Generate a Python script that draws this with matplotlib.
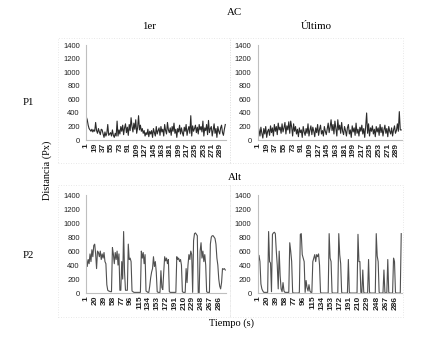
import matplotlib
matplotlib.use('Agg')
import matplotlib.pyplot as plt
import numpy as np

# values every 2 s (t = 1, 3, ..., 299)
t = np.arange(1, 300, 2)

ac_first = [340, 300, 220, 170, 150, 130, 160, 120, 150, 130, 260, 140, 100, 170, 120,
            80, 160, 150, 90, 40, 120, 60, 100, 230, 70, 90, 110, 60, 150, 70,
            40, 100, 60, 280, 60, 150, 90, 200, 130, 220, 80, 180, 240, 110, 190,
            70, 230, 140, 330, 200, 120, 250, 160, 300, 100, 180, 360, 150, 220, 130,
            170, 100, 140, 60, 110, 80, 160, 50, 130, 90, 140, 40, 170, 110, 60,
            200, 90, 140, 180, 70, 200, 120, 160, 60, 230, 140, 90, 260, 150, 110,
            180, 70, 200, 130, 250, 100, 160, 40, 170, 120, 220, 90, 180, 110, 60,
            190, 130, 230, 70, 150, 200, 100, 360, 60, 210, 130, 170, 220, 110, 190,
            90, 230, 150, 200, 120, 280, 60, 180, 140, 230, 80, 290, 110, 170, 200,
            60, 150, 240, 100, 170, 40, 200, 130, 90, 180, 220, 110, 70, 160, 230]

ac_last = [200, 150, 60, 190, 100, 30, 170, 90, 200, 40, 130, 160, 70, 210, 110,
           180, 60, 230, 130, 200, 80, 250, 150, 190, 100, 240, 120, 180, 260, 90,
           210, 150, 270, 100, 280, 190, 60, 240, 130, 200, 90, 160, 50, 180, 110,
           150, 40, 200, 120, 70, 170, 100, 240, 60, 150, 210, 80, 190, 130, 50,
           180, 110, 230, 70, 160, 220, 90, 140, 60, 200, 130, 80, 170, 250, 110,
           190, 300, 140, 230, 90, 280, 170, 60, 300, 150, 220, 100, 260, 130, 80,
           200, 140, 60, 180, 230, 90, 150, 40, 210, 120, 180, 70, 250, 100, 160,
           60, 190, 130, 220, 90, 170, 40, 200, 400, 100, 240, 60, 180, 130, 210,
           90, 160, 50, 200, 120, 180, 70, 230, 110, 190, 60, 150, 220, 100, 170,
           50, 200, 130, 90, 180, 60, 150, 210, 100, 140, 240, 130, 420, 150, 150]

alt_first = [500, 380, 480, 420, 560, 450, 620, 520, 680, 700, 560, 350, 600, 580, 520,
             600, 480, 560, 500, 580, 450, 420, 120, 40, 30, 25, 20, 20, 650, 560,
             420, 580, 480, 600, 400, 560, 40, 40, 450, 200, 880, 300, 40, 40, 40,
             700, 480, 500, 450, 30, 20, 10, 10, 10, 10, 10, 10, 10, 10, 600,
             500, 580, 420, 550, 30, 20, 10, 10, 100, 220, 300, 350, 520, 380, 450,
             300, 20, 10, 10, 10, 320, 80, 50, 300, 520, 460, 500, 420, 480, 20,
             10, 10, 10, 10, 10, 10, 10, 520, 480, 500, 450, 480, 400, 20, 10,
             10, 10, 350, 150, 400, 550, 480, 600, 550, 10, 750, 850, 860, 840, 820,
             0, 0, 600, 720, 500, 600, 450, 550, 400, 20, 10, 10, 10, 700, 800,
             820, 820, 800, 780, 700, 500, 400, 200, 100, 60, 150, 350, 340, 350, 330]

alt_last = [400, 540, 450, 130, 60, 30, 10, 10, 10, 10, 10, 880, 450, 430, 20,
            840, 860, 870, 850, 600, 400, 60, 600, 250, 60, 20, 150, 30, 10, 10,
            10, 10, 10, 720, 600, 450, 10, 0, 0, 0, 0, 0, 0, 10, 840,
            850, 550, 500, 450, 10, 180, 80, 30, 120, 30, 10, 10, 450, 500, 550,
            450, 550, 520, 560, 400, 10, 0, 0, 0, 0, 0, 0, 0, 0, 850,
            500, 450, 10, 0, 0, 0, 0, 0, 0, 850, 550, 420, 10, 0, 0,
            0, 0, 0, 0, 480, 10, 0, 0, 0, 0, 0, 0, 0, 0, 840,
            450, 450, 10, 0, 330, 10, 0, 0, 0, 0, 480, 10, 0, 0, 0,
            0, 0, 0, 850, 530, 450, 10, 0, 0, 0, 0, 330, 10, 0, 0,
            480, 10, 0, 0, 0, 0, 500, 450, 10, 0, 0, 0, 0, 0, 850]

top_ticks = np.arange(1, 300, 18)
bot_ticks = np.arange(1, 300, 19)
yticks = np.arange(0, 1401, 200)

serif = 'Liberation Serif'
sans = 'Liberation Sans'

fig = plt.figure(figsize=(4.24, 3.40), dpi=100)

# faint dotted chart-area borders
for (x0, y0, x1, y1) in [(58, 38, 230, 163), (230, 38, 403, 163),
                         (58, 185, 230, 317), (230, 185, 403, 317)]:
    r = plt.Rectangle((x0/424, 1-y1/340), (x1-x0)/424, (y1-y0)/340,
                      transform=fig.transFigure, fill=False,
                      ec='#e0e0e0', lw=0.6, ls=(0, (1, 2)))
    fig.add_artist(r)

panels = [
    ([0.203, 0.588, 0.330, 0.279], ac_first, top_ticks, '#2a2a2a'),
    ([0.608, 0.588, 0.340, 0.279], ac_last, top_ticks, '#2a2a2a'),
    ([0.203, 0.138, 0.330, 0.288], alt_first, bot_ticks, '#505050'),
    ([0.608, 0.138, 0.340, 0.288], alt_last, bot_ticks, '#505050'),
]

for pos, y, xt, col in panels:
    ax = fig.add_axes(pos)
    ax.plot(t, y, color=col, lw=0.8)
    ax.set_xlim(0.5, 300.5)
    ax.set_ylim(0, 1400)
    ax.set_yticks(yticks)
    ax.set_xticks(xt)
    ax.set_xticklabels([str(v) for v in xt], rotation=90, fontsize=6,
                       family=sans, fontweight='bold', color='#222222')
    ax.set_yticklabels([str(v) for v in yticks], fontsize=5.5, family=sans,
                       color='#222222')
    ax.tick_params(axis='y', length=0, pad=4.5)
    ax.tick_params(axis='x', length=0, pad=2)
    for s in ['top', 'right']:
        ax.spines[s].set_visible(False)
    ax.spines['left'].set_color('#bfbfbf')
    ax.spines['bottom'].set_color('#bfbfbf')
    ax.spines['left'].set_linewidth(0.8)
    ax.spines['bottom'].set_linewidth(0.8)

fig.text(0.554, 0.962, 'AC', ha='center', va='center', fontsize=7.8, family=serif)
fig.text(0.352, 0.921, '1er', ha='center', va='center', fontsize=7.8, family=serif)
fig.text(0.746, 0.921, 'Último', ha='center', va='center', fontsize=7.8, family=serif)
fig.text(0.554, 0.479, 'Alt', ha='center', va='center', fontsize=7.8, family=serif)
fig.text(0.066, 0.700, 'P1', ha='center', va='center', fontsize=7.8, family=serif)
fig.text(0.066, 0.250, 'P2', ha='center', va='center', fontsize=7.8, family=serif)
fig.text(0.111, 0.500, 'Distancia (Px)', ha='center', va='center', rotation=90,
         fontsize=7.5, family=serif)
fig.text(0.547, 0.050, 'Tiempo (s)', ha='center', va='center', fontsize=7.5,
         family=serif)

fig.savefig('out.png', dpi=100)
